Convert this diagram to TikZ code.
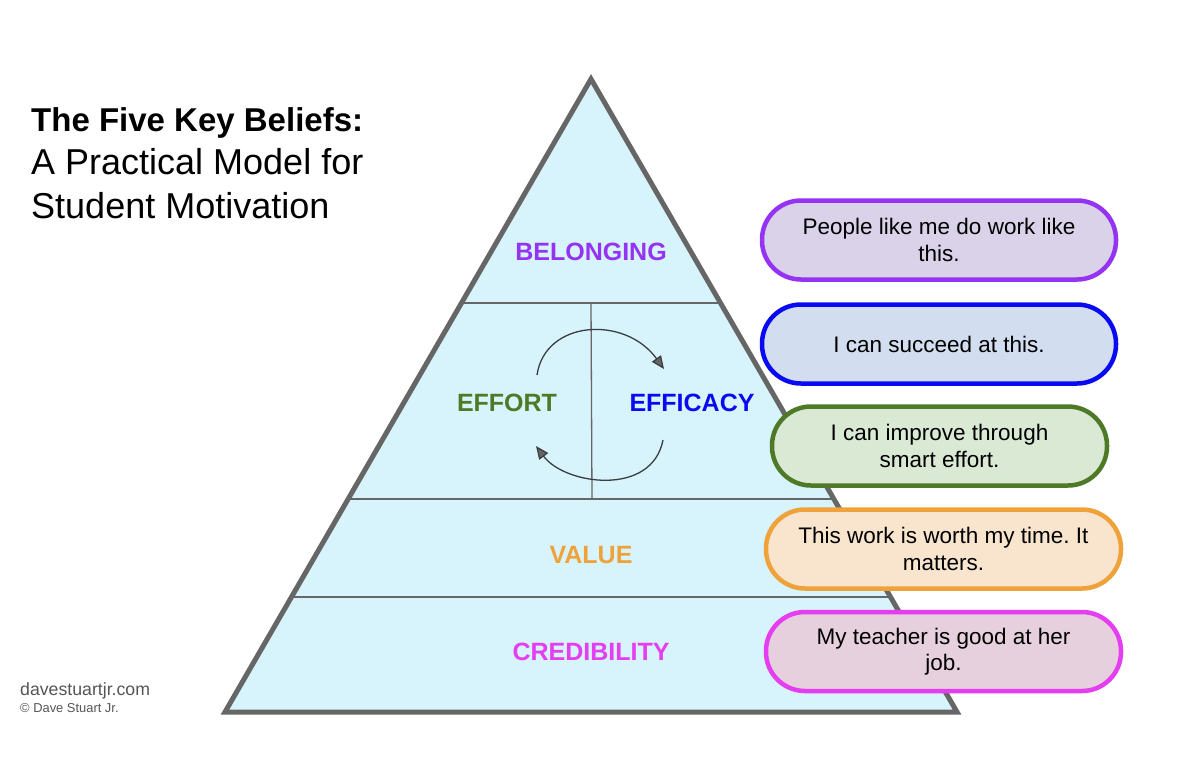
\documentclass[tikz,border=0pt]{standalone}
\usepackage{fontspec}
\setmainfont{Liberation Sans}
\usetikzlibrary{arrows.meta}
\frenchspacing
\definecolor{outl}{HTML}{666666}
\definecolor{pyrfill}{HTML}{D7F3FC}
\definecolor{cpurple}{HTML}{9533F2}
\definecolor{fpurple}{HTML}{D9D2E9}
\definecolor{cblue}{HTML}{0A0AF0}
\definecolor{fblue}{HTML}{D2DEF0}
\definecolor{cgreen}{HTML}{4E7A27}
\definecolor{fgreen}{HTML}{D9E9D3}
\definecolor{corange}{HTML}{F0A23A}
\definecolor{forange}{HTML}{F9E5CE}
\definecolor{cmag}{HTML}{E53DF0}
\definecolor{fmag}{HTML}{E7D0DE}
\definecolor{footgray}{HTML}{555555}
\definecolor{arrowgray}{HTML}{3A3D42}
\tikzset{
  lvl/.style={font=\fontsize{25}{30}\selectfont\bfseries, inner sep=0pt},
  pill/.style={draw, line width=4.5pt, rounded corners=39pt, minimum height=79pt,
    align=center, font=\fontsize{22.5}{26.5}\selectfont, inner sep=0pt},
  divider/.style={draw=outl, line width=1.3pt},
  cyc/.style={draw=arrowgray, line width=1.3pt, -{Triangle[length=13pt,width=11pt,fill=outl]}},
}
\begin{document}
\begin{tikzpicture}[x=1pt,y=-1pt]
\useasboundingbox (0,0) rectangle (1178,758);
% pyramid
\fill[pyrfill] (591,79) -- (957,712) -- (225,712) -- cycle;
\draw[divider] (461,303) -- (721,303);
\draw[divider] (348,499) -- (834,499);
\draw[divider] (291,597) -- (891,597);
\draw[divider] (591,303) -- (592,499);
\draw[outl, line width=5pt, line join=miter] (591,79) -- (957,712) -- (225,712) -- cycle;
% level labels
\node[lvl, text=cpurple] (belong) at (591,252) {BELONGING};
\node[lvl, text=cgreen] (effort) at (507,403) {EFFORT};
\node[lvl, text=cblue] (efficacy) at (692,403) {EFFICACY};
\node[lvl, text=corange] (value) at (591,555) {VALUE};
\node[lvl, text=cmag] (cred) at (591,652) {CREDIBILITY};
% cycle arrows
\coordinate (t0) at (537,375);
\coordinate (t1) at (664,369);
\coordinate (b0) at (663,440);
\coordinate (b1) at (536,446);
\draw[cyc] (t0) .. controls (545,320) and (625,315) .. (t1);
\draw[cyc] (b0) .. controls (652,497) and (565,485) .. (b1);
% pills
\node[pill, draw=cpurple, fill=fpurple, minimum width=354pt] (p1) at (939,240) {People like me do work like\\this.};
\node[pill, draw=cblue, fill=fblue, minimum width=354pt] (p2) at (939,344) {I can succeed at this.};
\node[pill, draw=cgreen, fill=fgreen, minimum width=335pt] (p3) at (939.5,446) {I can improve through\\smart effort.};
\node[pill, draw=corange, fill=forange, minimum width=355pt] (p4) at (943.5,549) {This work is worth my time. It\\matters.};
\node[pill, draw=cmag, fill=fmag, minimum width=355pt] (p5) at (943.5,651.5) {My teacher is good at her\\job.};
% title
\node[anchor=base west, inner sep=0pt, font=\fontsize{33}{40}\selectfont\bfseries] (title1) at (31,131) {The Five Key Beliefs:};
\node[anchor=base west, inner sep=0pt, font=\fontsize{36}{40}\selectfont] (title2) at (31,174.5) {A Practical Model for};
\node[anchor=base west, inner sep=0pt, font=\fontsize{36}{40}\selectfont] (title3) at (31,218) {Student Motivation};
% footer
\node[anchor=base west, inner sep=0pt, text=footgray, font=\fontsize{17.7}{20}\selectfont] (site) at (20,695) {davestuartjr.com};
\node[anchor=base west, inner sep=0pt, text=footgray, font=\fontsize{12.9}{14}\selectfont] (copy) at (20,712) {\textcopyright{} Dave Stuart Jr.};
\end{tikzpicture}
\end{document}
